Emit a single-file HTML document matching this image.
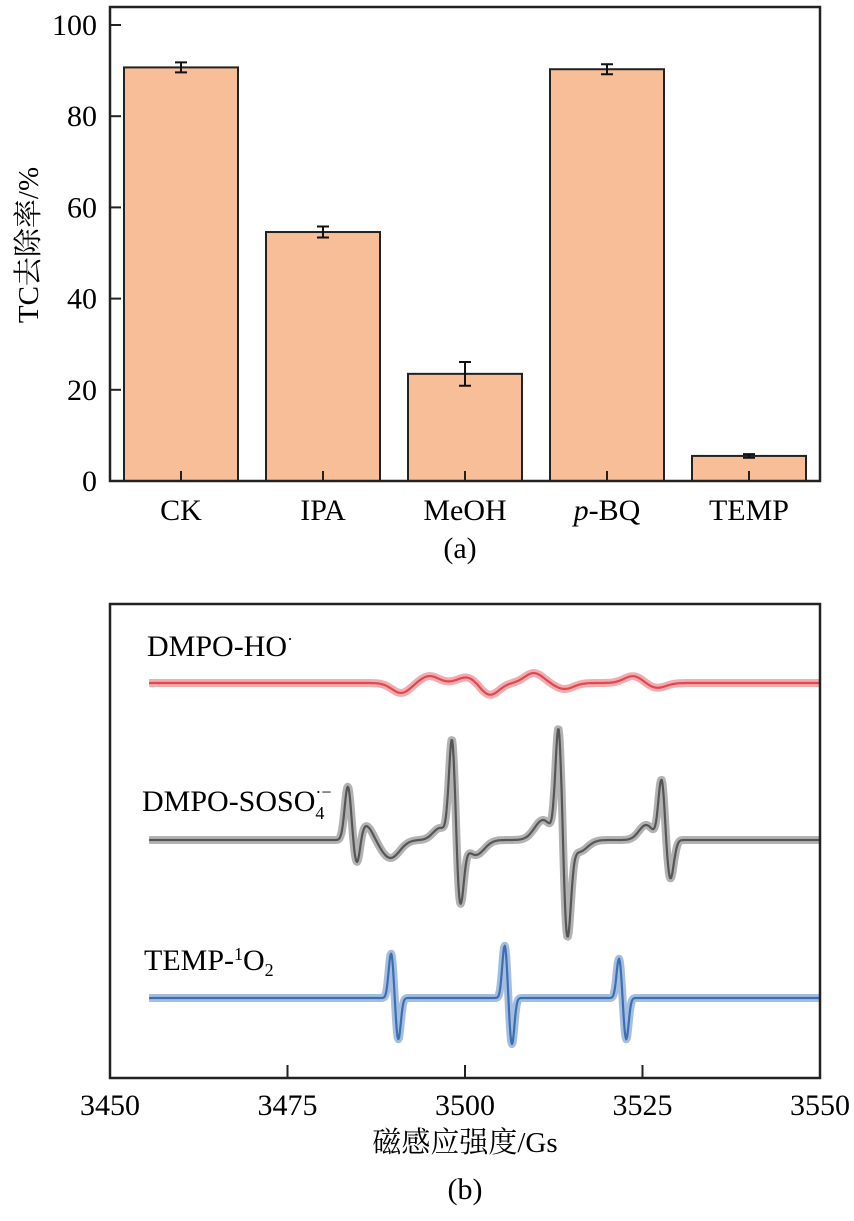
<!DOCTYPE html>
<html><head><meta charset="utf-8">
<style>
html,body{margin:0;padding:0;background:#fff;}
svg, svg text{font-family:"Liberation Serif","Times New Roman","Noto Serif CJK SC","DejaVu Serif",serif;}
</style></head>
<body>
<svg id="fig" width="854" height="1216" viewBox="0 0 854 1216"></svg>
<script>
// ---- Chart (a) data ----
const categories = ["CK","IPA","MeOH","p-BQ","TEMP"];
const removal = [90.7, 54.6, 23.5, 90.3, 5.5];
const removalErr = [1.1, 1.2, 2.6, 1.1, 0.4];
const yTicks = [0,20,40,60,80,100];
// ---- Chart (b) data ----
const xTicksB = [3450,3475,3500,3525,3550];
const hoFields = [3491,3495,3500.3,3503.5,3509.7,3514,3523.7,3527];
const hoAmps   = [-10,7,6,-12,10,-6,7,-5];
const soFields = [3483.5,3484.8,3486,3489.5,3496.5,3498.2,3499.3,3501.5,3511,3513.2,3514.4,3516,3525.5,3527.7,3528.9];
const soAmps   = [53,-30,15,-18,12,103,-65,-15,20,113,-95,-12,15,61,-40];
const tpFields = [3489.6,3490.6,3505.6,3506.6,3521.7,3522.7];
const tpAmps   = [45,-42,53,-47,40,-42];

const NS="http://www.w3.org/2000/svg";
const svg=document.getElementById('fig');
const FF='"Liberation Serif","Noto Serif CJK SC",serif';
function mk(tag,attrs,parent){const e=document.createElementNS(NS,tag);for(const k in attrs)e.setAttribute(k,attrs[k]);if(tag==='text')e.setAttribute('font-family',FF);(parent||svg).appendChild(e);return e;}

// ===== Chart (a) =====
const A={l:110,r:820,t:7,b:481};
const ya=v=>A.b-(v/100)*(481-25);
const bandW=(A.r-A.l)/categories.length;
const xc=i=>A.l+bandW*(i+0.5);
const gA=mk('g',{});


categories.forEach((c,i)=>{
  const v=removal[i],e=removalErr[i],w=114;
  const bar=mk('rect',{x:xc(i)-w/2,y:ya(v),width:w,height:A.b-ya(v),fill:'#f7be97',stroke:'#222','stroke-width':2},gA);
  
  
  const eb=mk('path',{d:`M${xc(i)} ${ya(v+e)}V${ya(v-e)}M${xc(i)-6} ${ya(v+e)}H${xc(i)+6}M${xc(i)-6} ${ya(v-e)}H${xc(i)+6}`,stroke:'#111','stroke-width':2,fill:'none'},gA);
  
  
  mk('line',{x1:xc(i),x2:xc(i),y1:A.b,y2:A.b-10,stroke:'#222','stroke-width':2},gA);
  const t=mk('text',{x:xc(i),y:520,'text-anchor':'middle','font-size':30},gA);
  if(c==='p-BQ'){t.innerHTML='<tspan font-style="italic">p</tspan>-BQ';}else t.textContent=c;
  
  
});
yTicks.forEach(v=>{
  mk('line',{x1:A.l,x2:A.l+11,y1:ya(v),y2:ya(v),stroke:'#222','stroke-width':2},gA);
  const t=mk('text',{x:97,y:ya(v)+10,'text-anchor':'end','font-size':30},gA);
  t.textContent=v;
  
  
});
const boxA=mk('rect',{x:A.l,y:A.t,width:A.r-A.l,height:A.b-A.t,fill:'none',stroke:'#222','stroke-width':2.5},gA);


const yt=mk('text',{x:0,y:0,'text-anchor':'middle','font-size':29,transform:'translate(38,245) rotate(-90)'},gA);
yt.textContent='TC去除率/%';


const ca=mk('text',{x:460,y:558,'text-anchor':'middle','font-size':30},gA);
ca.textContent='(a)';



// ===== Chart (b) =====
const B={l:110,r:820,t:604,b:1078};
const xb=f=>B.l+(f-3450)/100*(B.r-B.l);
const gB=mk('g',{});


function spectrum(fields,amps,base,sig,color,name){
  let pts=[];
  for(let f=3455.5;f<=3550;f+=0.1){
    let y=0;
    for(let k=0;k<fields.length;k++){const d=(f-fields[k])/sig[k%sig.length];y+=amps[k]*Math.exp(-d*d/2);}
    pts.push(xb(f).toFixed(1)+','+(base-y).toFixed(1));
  }
  const band=mk('polyline',{points:pts.join(' '),fill:'none',stroke:color,'stroke-width':8,'stroke-opacity':0.45,'stroke-linejoin':'round'},gB);
  
  
  const pl=mk('polyline',{points:pts.join(' '),fill:'none',stroke:color,'stroke-width':2.2,'stroke-linejoin':'round'},gB);
  
  
}
spectrum(hoFields,hoAmps,683,[1.3],'#e0474f','spectrum-dmpo-ho');
spectrum(soFields,soAmps,840,[0.45,0.45,1.0,1.3,1.0,0.45,0.5,1.2,1.2,0.45,0.5,1.2,1.0,0.45,0.5],'#555555','spectrum-dmpo-so4');
spectrum(tpFields,tpAmps,998,[0.35],'#3a6fb5','spectrum-temp-1o2');
xTicksB.forEach(v=>{
  mk('line',{x1:xb(v),x2:xb(v),y1:B.b,y2:B.b-13,stroke:'#222','stroke-width':2},gB);
  const t=mk('text',{x:xb(v),y:1115,'text-anchor':'middle','font-size':30},gB);
  t.textContent=v;
  
  
});
const boxB=mk('rect',{x:B.l,y:B.t,width:B.r-B.l,height:B.b-B.t,fill:'none',stroke:'#222','stroke-width':2.5},gB);


const l1=mk('text',{x:147,y:656,'font-size':30},gB);
l1.innerHTML='DMPO-HO<tspan dy="-11" font-size="18">·</tspan>';


const l2=mk('text',{x:142,y:811,'font-size':30},gB);
l2.innerHTML='DMPO-SOSO<tspan dy="8" font-size="18">4</tspan><tspan dx="-9" dy="-21" font-size="18">·−</tspan>';


const l3=mk('text',{x:144,y:970,'font-size':30},gB);
l3.innerHTML='TEMP-<tspan dy="-10" font-size="18">1</tspan><tspan dy="10">O</tspan><tspan dy="6" font-size="18">2</tspan>';


const xt=mk('text',{x:465,y:1152,'text-anchor':'middle','font-size':29},gB);
xt.textContent='磁感应强度/Gs';


const cb=mk('text',{x:465,y:1199,'text-anchor':'middle','font-size':30},gB);
cb.textContent='(b)';


</script>
</body></html>
